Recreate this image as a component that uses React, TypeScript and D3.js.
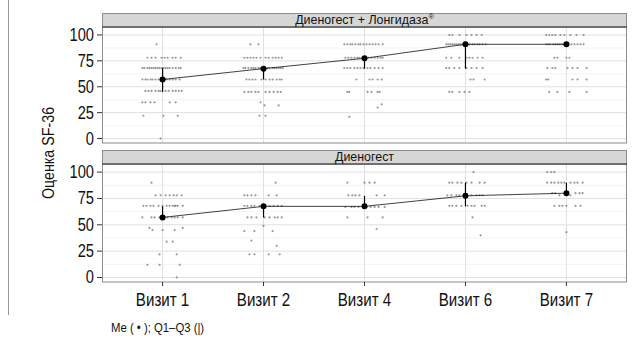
import React from "react";
import * as d3 from "d3";

const visits = ["Визит 1", "Визит 2", "Визит 4", "Визит 6", "Визит 7"];
const panelTitles = ["Диеногест + Лонгидаза", "Диеногест"];
const panelMarks = ["®", ""];
const yTicks = [0, 25, 50, 75, 100];
const yMinor = [12.5, 37.5, 62.5, 87.5];

// medians and quartiles per panel
const medTop = [57, 67.5, 77.5, 91, 91];
const q1Top = [45, 57, 67.5, 67.5, 91];
const q3Top = [68, 67.5, 77.5, 91, 91];
const medBot = [57, 67.5, 67.5, 77.5, 80];
const q1Bot = [57, 57, 67.5, 67.5, 80];
const q3Bot = [67.5, 67.5, 77.5, 90, 90];

type Row = [number, number[]];
// individual observations: [score, horizontal jitter offsets]
const ptsTop: Row[][] = [
  [
    [91, [-0.06]],
    [78, [-0.15, -0.11, -0.07, -0.01, 0.02, 0.05, 0.1, 0.13, 0.18]],
    [68, [-0.2, -0.18, -0.15, -0.13, -0.11, -0.09, -0.07, -0.05, -0.03, -0.01, 0.01, 0.03, 0.05, 0.07, 0.1, 0.13, 0.16, 0.18]],
    [57, [-0.2, -0.17, -0.15, -0.12, -0.1, -0.07, -0.04, -0.02, 0.02, 0.04, 0.07, 0.1, 0.13, 0.17]],
    [46, [-0.17, -0.14, -0.11, -0.07, -0.04, -0.02, 0.03, 0.06, 0.1, 0.13, 0.16, 0.19]],
    [35, [-0.2, -0.17, -0.12, -0.08, 0.07, 0.13]],
    [22, [-0.19, 0.01, 0.15]],
    [0, [-0.02]],
  ],
  [
    [91, [-0.13, -0.05]],
    [78, [-0.19, -0.16, -0.13, -0.1, -0.07, -0.03, 0.02, 0.05, 0.09, 0.12, 0.15, 0.18]],
    [68, [-0.2, -0.18, -0.15, -0.12, -0.1, -0.08, -0.05, -0.03, -0.01, 0.02, 0.04, 0.06, 0.09, 0.11, 0.13, 0.15, 0.17, 0.19]],
    [57, [-0.17, -0.14, -0.11, -0.08, -0.02, 0.02, 0.06, 0.09, 0.13, 0.16, 0.18]],
    [45, [-0.19, -0.15, -0.12, -0.08, -0.05, 0.02, 0.06, 0.1, 0.14, 0.17]],
    [35, [-0.03]],
    [32, [0.01, 0.15]],
    [22, [-0.04, 0.02]],
  ],
  [
    [91, [-0.2, -0.17, -0.14, -0.12, -0.09, -0.06, -0.04, -0.01, 0.02, 0.05, 0.08, 0.11, 0.14, 0.18]],
    [78, [-0.19, -0.16, -0.13, -0.1, -0.07, -0.05, -0.02, 0.01, 0.04, 0.07, 0.1, 0.13, 0.16, 0.18]],
    [68, [-0.2, -0.17, -0.14, -0.1, -0.07, -0.04, -0.01, 0.03, 0.06, 0.1, 0.14, 0.18]],
    [57, [-0.08, 0.05, 0.08, 0.13, 0.17]],
    [45, [-0.17, -0.15, 0.03, 0.07, 0.13, 0.15]],
    [33, [0.17]],
    [30, [0.13]],
    [21, [-0.15]],
  ],
  [
    [100, [-0.16, -0.13, -0.06, 0.01, 0.06, 0.11, 0.16]],
    [91, [-0.19, -0.17, -0.15, -0.13, -0.11, -0.09, -0.07, -0.05, -0.03, -0.01, 0.02, 0.04, 0.07, 0.09, 0.12, 0.14, 0.17, 0.2]],
    [78, [-0.19, -0.14, -0.06, 0.01, 0.04, 0.07, 0.12, 0.17]],
    [68, [-0.19, -0.16, -0.11, -0.06, 0.01, 0.06, 0.11, 0.17]],
    [57, [0.05, 0.08, 0.19]],
    [45, [-0.16, -0.13, -0.06, -0.01, 0.04]],
  ],
  [
    [100, [-0.2, -0.17, -0.14, -0.11, -0.06, -0.02, 0.04, 0.1, 0.17]],
    [91, [-0.2, -0.18, -0.16, -0.13, -0.11, -0.09, -0.07, -0.05, -0.03, -0.01, 0.02, 0.05, 0.08, 0.11, 0.14, 0.17]],
    [78, [-0.12, -0.09, 0, 0.03]],
    [68, [-0.19, -0.14, -0.11, 0.01, 0.06, 0.11, 0.2]],
    [57, [-0.2, -0.18, 0.06, 0.11, 0.2]],
    [45, [-0.17, -0.09, 0.03, 0.2]],
  ],
];

const ptsBot: Row[][] = [
  [
    [90, [-0.11]],
    [78, [-0.07, -0.02, 0.03, 0.07, 0.11, 0.14, 0.19]],
    [68, [-0.19, -0.16, -0.12, -0.09, -0.04, 0, 0.04, 0.07, 0.1, 0.12, 0.13, 0.15, 0.2]],
    [57, [-0.2, -0.11, -0.08, -0.03, 0.02, 0.05, 0.09, 0.12, 0.15, 0.2]],
    [47, [-0.13, 0.2]],
    [45, [-0.1, 0, 0.12]],
    [34, [0.04, 0.1]],
    [22, [-0.03, 0.14]],
    [12, [-0.15, -0.03, 0.17]],
    [0, [0.14]],
  ],
  [
    [90, [0.12]],
    [78, [-0.19, -0.16, -0.12, -0.08, 0.05, 0.13]],
    [68, [-0.19, -0.16, -0.12, -0.09, -0.04, 0.01, 0.06, 0.1, 0.14, 0.18]],
    [57, [-0.16, -0.12, -0.07, 0.01, 0.06, 0.11, 0.14, 0.18]],
    [49, [0]],
    [44, [-0.19, -0.09, 0.09]],
    [35, [-0.12]],
    [30, [0.13]],
    [22, [-0.14, -0.09, 0.05, 0.16]],
  ],
  [
    [90, [-0.17, 0, 0.05, 0.1]],
    [78, [-0.16, -0.12, -0.09, -0.05, 0.12, 0.2]],
    [67, [-0.19, -0.13, -0.1, -0.06, 0.02, 0.06, 0.1, 0.14, 0.2]],
    [57, [-0.17, 0.03, 0.18]],
    [46, [0.12]],
  ],
  [
    [100, [0.08]],
    [90, [-0.16, -0.13, -0.08, -0.04, 0.01, 0.06, 0.14, 0.19]],
    [78, [-0.18, -0.14, -0.09, -0.06, 0.01, 0.06, 0.11, 0.14, 0.17]],
    [68, [-0.16, -0.13, -0.09, -0.04, 0.02, 0.06, 0.09, 0.16, 0.19]],
    [57, [0.07]],
    [40, [0.15]],
  ],
  [
    [100, [-0.19, -0.15, -0.12]],
    [90, [-0.19, -0.15, -0.12, -0.08, -0.05, -0.02, 0.04, 0.08, 0.11, 0.16]],
    [80, [-0.14, -0.11, 0.09, 0.13, 0.16]],
    [78, [-0.07, 0.04]],
    [68, [-0.12, -0.07, -0.04, 0, 0.09, 0.14]],
    [43, [0]],
  ],
];

const W = 639;
const H = 347;
const FONT = "'Liberation Sans', Arial, sans-serif";
const SX = 0.84;

const xLeft = 102;
const xRight = 627;

const panelsLayout = [
  { stripTop: 13, top: 27, bottom: 143, title: panelTitles[0], mark: panelMarks[0], pts: ptsTop, med: medTop, q1: q1Top, q3: q3Top },
  { stripTop: 150, top: 164, bottom: 282, title: panelTitles[1], mark: panelMarks[1], pts: ptsBot, med: medBot, q1: q1Bot, q3: q3Bot },
];

function CText(props: { x: number; y: number; size: number; anchor?: string; rotate?: number; sx?: number; children: React.ReactNode }) {
  const { x, y, size, anchor = "start", rotate = 0, sx = SX, children } = props;
  return (
    <text
      transform={`translate(${x},${y}) rotate(${rotate}) scale(${sx},1)`}
      textAnchor={anchor as any}
      fontSize={size}
      fill="#111"
    >
      {children}
    </text>
  );
}

export default function App() {
  const x = d3.scaleLinear().domain([0.4, visits.length + 0.6]).range([xLeft, xRight]);
  return (
    <svg width={W} height={H} style={{ position: "absolute", left: 0, top: 0, background: "#fff" }} fontFamily={FONT}>
      <rect x={0} y={0} width={W} height={H} fill="#fff" />
      <line x1={8.5} x2={8.5} y1={0} y2={315} stroke="#9a9a9a" strokeWidth={1} />
      {panelsLayout.map((p, pi) => {
        const y = d3.scaleLinear().domain([-4.3, 107.7]).range([p.bottom, p.top]);
        const line = d3.line<number>().x((_, i) => x(i + 1)).y((d) => y(d));
        return (
          <g key={pi}>
            <rect x={xLeft} y={p.top} width={xRight - xLeft} height={p.bottom - p.top} fill="#fff" />
            {yMinor.map((t) => (
              <line key={"m" + t} x1={xLeft} x2={xRight} y1={y(t)} y2={y(t)} stroke="#f0f0f0" strokeWidth={0.8} />
            ))}
            {yTicks.map((t) => (
              <line key={"g" + t} x1={xLeft} x2={xRight} y1={y(t)} y2={y(t)} stroke="#e0e0e0" strokeWidth={1} />
            ))}
            {visits.map((v, i) => (
              <line key={"v" + i} x1={x(i + 1)} x2={x(i + 1)} y1={p.top} y2={p.bottom} stroke="#e0e0e0" strokeWidth={1} />
            ))}
            {p.pts.map((rows, vi) =>
              rows.map(([val, dxs], ri) =>
                dxs.map((dx, k) => (
                  <circle key={`${vi}-${ri}-${k}`} cx={x(vi + 1 + dx)} cy={y(val)} r={1.1} fill="#555" fillOpacity={0.6} />
                ))
              )
            )}
            <path d={line(p.med) || ""} fill="none" stroke="#111" strokeWidth={0.8} />
            {visits.map((v, i) => (
              <line key={"e" + i} x1={x(i + 1)} x2={x(i + 1)} y1={y(p.q1[i])} y2={y(p.q3[i])} stroke="#000" strokeWidth={1.2} />
            ))}
            {p.med.map((m, i) => (
              <circle key={"md" + i} cx={x(i + 1)} cy={y(m)} r={3} fill="#000" />
            ))}
            <rect x={xLeft + 0.5} y={p.top} width={xRight - xLeft - 1} height={p.bottom - p.top} fill="none" stroke="#8c8c8c" strokeWidth={1} />
            <rect x={xLeft + 0.5} y={p.stripTop + 0.5} width={xRight - xLeft - 1} height={p.top - p.stripTop - 0.5} fill="#d6d6d6" stroke="#8c8c8c" strokeWidth={1} />
            <line x1={xLeft} x2={xRight} y1={p.top} y2={p.top} stroke="#333" strokeWidth={1.2} />
            <CText x={(xLeft + xRight) / 2} y={p.top - 3} size={13.5} anchor="middle" sx={0.92}>
              {p.title}
              {p.mark ? (
                <tspan fontSize={8} dy={-5}>
                  {p.mark}
                </tspan>
              ) : null}
            </CText>
            {yTicks.map((t) => (
              <g key={"t" + t}>
                <line x1={97} x2={xLeft} y1={y(t)} y2={y(t)} stroke="#333" strokeWidth={1} />
                <CText x={94} y={y(t) + 6} size={17.5} anchor="end">
                  {t}
                </CText>
              </g>
            ))}
          </g>
        );
      })}
      {visits.map((v, i) => (
        <g key={"xl" + i}>
          <line x1={x(i + 1)} x2={x(i + 1)} y1={282} y2={286} stroke="#333" strokeWidth={1} />
          <CText x={x(i + 1)} y={306} size={18} anchor="middle">
            {v}
          </CText>
        </g>
      ))}
      <CText x={54} y={153} size={17} anchor="middle" rotate={-90}>
        Оценка SF-36
      </CText>
      <CText x={111} y={332} size={13.5}>
        Me ( • ); Q1–Q3 (|)
      </CText>
    </svg>
  );
}
